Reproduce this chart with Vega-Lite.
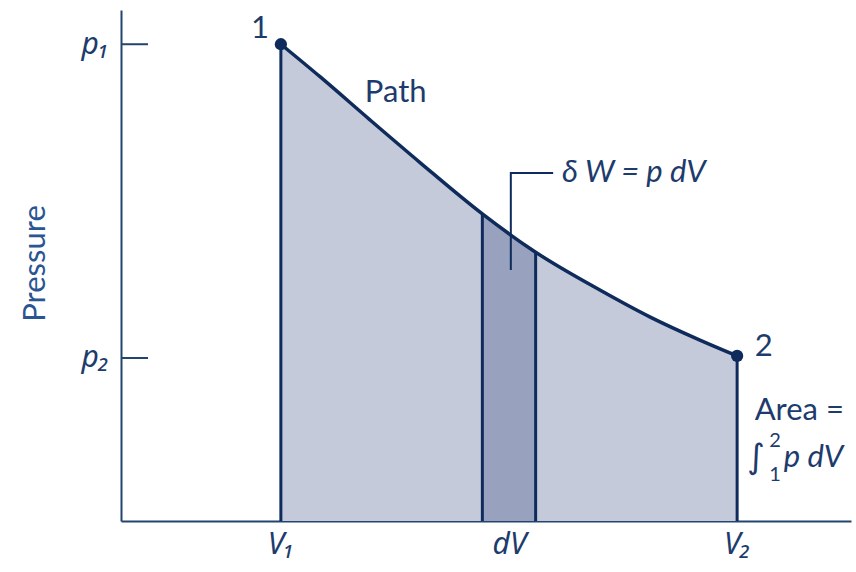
{
  "$schema": "https://vega.github.io/schema/vega-lite/v6.json",
  "autosize": "none",
  "width": 730,
  "height": 511,
  "padding": {"left": 121, "top": 10, "right": 5, "bottom": 51},
  "background": "white",
  "config": {
    "view": {"stroke": null},
    "font": "Lato",
    "text": {"font": "Lato", "color": "#1d3b6c", "baseline": "middle", "align": "left"}
  },
  "datasets": {
    "curve": [
      {"v": 2.19, "p": 9.33},
      {"v": 2.73, "p": 8.69},
      {"v": 3.41, "p": 7.85},
      {"v": 4.10, "p": 7.01},
      {"v": 4.95, "p": 6.01},
      {"v": 5.68, "p": 5.26},
      {"v": 6.56, "p": 4.52},
      {"v": 7.25, "p": 3.99},
      {"v": 7.93, "p": 3.54},
      {"v": 8.44, "p": 3.23}
    ],
    "strip": [
      {"v": 4.95, "p": 6.01},
      {"v": 5.68, "p": 5.26}
    ],
    "verticals": [
      {"v": 2.19, "p": 9.33},
      {"v": 4.95, "p": 6.01},
      {"v": 5.68, "p": 5.26},
      {"v": 8.44, "p": 3.23}
    ],
    "ticks": [{"p": 9.33}, {"p": 3.19}],
    "points": [{"v": 2.19, "p": 9.33}, {"v": 8.44, "p": 3.23}],
    "leader": [
      {"v": 5.34, "p": 4.91, "o": 1},
      {"v": 5.34, "p": 6.81, "o": 2},
      {"v": 5.92, "p": 6.81, "o": 3}
    ],
    "normalText": [
      {"v": 3.34, "p": 8.38, "t": "Path"},
      {"v": 1.78, "p": 9.63, "t": "1"},
      {"v": 8.68, "p": 3.41, "t": "2"},
      {"v": 8.68, "p": 2.15, "t": "Area ="}
    ],
    "italicText": [
      {"v": 6.04, "p": 6.81, "t": "δ W = p dV"},
      {"v": 9.08, "p": 1.23, "t": "p dV"}
    ],
    "integral": [{"v": 8.58, "p": 1.23, "t": "∫"}],
    "limits": [
      {"v": 8.88, "p": 1.56, "t": "2"},
      {"v": 8.88, "p": 0.9, "t": "1"}
    ]
  },
  "layer": [
    {
      "data": {"name": "curve"},
      "mark": {"type": "area", "interpolate": "monotone", "color": "#c5cadb"},
      "encoding": {
        "x": {
          "field": "v", "type": "quantitative",
          "scale": {"domain": [0, 10], "nice": false, "zero": false},
          "axis": {
            "values": [2.19, 5.315, 8.44],
            "labelExpr": "datum.value < 3 ? 'V₁' : (datum.value < 7 ? 'dV' : 'V₂')",
            "title": null, "grid": false, "ticks": false,
            "domainColor": "#23446f", "domainWidth": 2,
            "labelFont": "Noto Sans", "labelFontSize": 30, "labelFontStyle": "italic",
            "labelColor": "#1d3b6c", "labelPadding": 8, "labelFlush": false
          }
        },
        "y": {
          "field": "p", "type": "quantitative",
          "scale": {"domain": [0, 10], "nice": false, "zero": false},
          "axis": {
            "values": [3.19, 9.33],
            "labelExpr": "datum.value < 5 ? 'p₂' : 'p₁'",
            "title": "Pressure", "grid": false, "ticks": false,
            "domainColor": "#23446f", "domainWidth": 2,
            "labelFont": "Noto Sans", "labelFontSize": 30, "labelFontStyle": "italic",
            "labelColor": "#1d3b6c", "labelPadding": 12,
            "titleFont": "Lato", "titleFontSize": 31, "titleFontWeight": "normal",
            "titleColor": "#2a5592", "titleAngle": -90,
            "titleX": -86, "titleY": 253, "titleAlign": "center", "titleBaseline": "middle"
          }
        }
      }
    },
    {
      "data": {"name": "strip"},
      "mark": {"type": "area", "color": "#98a2be"},
      "encoding": {
        "x": {"field": "v", "type": "quantitative"},
        "y": {"field": "p", "type": "quantitative"}
      }
    },
    {
      "data": {"name": "verticals"},
      "mark": {"type": "rule", "color": "#0e2b5c", "strokeWidth": 3},
      "encoding": {
        "x": {"field": "v", "type": "quantitative"},
        "y": {"field": "p", "type": "quantitative"},
        "y2": {"datum": 0}
      }
    },
    {
      "data": {"name": "ticks"},
      "mark": {"type": "rule", "color": "#23446f", "strokeWidth": 2},
      "encoding": {
        "y": {"field": "p", "type": "quantitative"},
        "x": {"datum": 0},
        "x2": {"datum": 0.37}
      }
    },
    {
      "data": {"name": "curve"},
      "mark": {"type": "line", "interpolate": "monotone", "color": "#0e2b5c", "strokeWidth": 3.5},
      "encoding": {
        "x": {"field": "v", "type": "quantitative"},
        "y": {"field": "p", "type": "quantitative"}
      }
    },
    {
      "data": {"name": "leader"},
      "mark": {"type": "line", "color": "#0e2b5c", "strokeWidth": 2},
      "encoding": {
        "x": {"field": "v", "type": "quantitative"},
        "y": {"field": "p", "type": "quantitative"},
        "order": {"field": "o"}
      }
    },
    {
      "data": {"name": "points"},
      "mark": {"type": "point", "filled": true, "color": "#0e2b5c", "size": 150, "opacity": 1},
      "encoding": {
        "x": {"field": "v", "type": "quantitative"},
        "y": {"field": "p", "type": "quantitative"}
      }
    },
    {
      "data": {"name": "normalText"},
      "mark": {"type": "text", "fontSize": 31},
      "encoding": {
        "x": {"field": "v", "type": "quantitative"},
        "y": {"field": "p", "type": "quantitative"},
        "text": {"field": "t"}
      }
    },
    {
      "data": {"name": "italicText"},
      "mark": {"type": "text", "fontSize": 31, "fontStyle": "italic"},
      "encoding": {
        "x": {"field": "v", "type": "quantitative"},
        "y": {"field": "p", "type": "quantitative"},
        "text": {"field": "t"}
      }
    },
    {
      "data": {"name": "integral"},
      "mark": {"type": "text", "fontSize": 34, "font": "DejaVu Sans"},
      "encoding": {
        "x": {"field": "v", "type": "quantitative"},
        "y": {"field": "p", "type": "quantitative"},
        "text": {"field": "t"}
      }
    },
    {
      "data": {"name": "limits"},
      "mark": {"type": "text", "fontSize": 20},
      "encoding": {
        "x": {"field": "v", "type": "quantitative"},
        "y": {"field": "p", "type": "quantitative"},
        "text": {"field": "t"}
      }
    }
  ]
}
